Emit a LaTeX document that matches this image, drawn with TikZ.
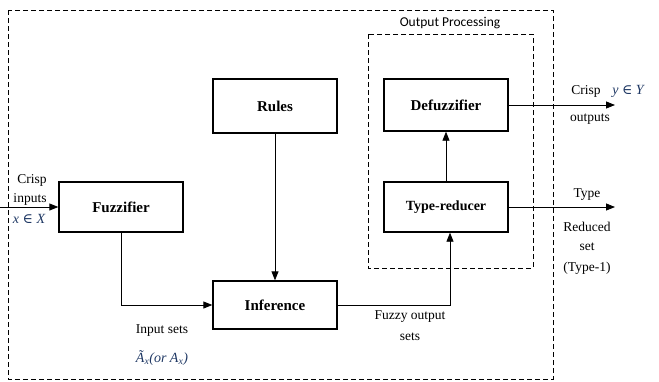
\documentclass[tikz,border=0pt]{standalone}
\usepackage{fontspec}
\setmainfont{Liberation Serif}
\newfontfamily\carlito{Carlito}
\newfontfamily\dvs{DejaVu Serif}
\usetikzlibrary{arrows.meta}
\definecolor{mathblue}{HTML}{1F3864}
\begin{document}
\begin{tikzpicture}[x=1pt,y=-1pt,
  blk/.style={draw,line width=1.3pt,minimum width=124pt,inner sep=0pt,font=\fontsize{15}{17}\selectfont\bfseries},
  conn/.style={line width=0.8pt,-{Triangle[length=9pt,width=7pt]}},
  dbox/.style={draw,dash pattern=on 5pt off 3pt,line width=0.8pt},
  lbl/.style={font=\fontsize{13.5}{15}\selectfont,inner sep=0pt},
  mth/.style={text=mathblue,inner sep=0pt,font=\fontsize{14}{16}\selectfont\itshape}]
\useasboundingbox (0,0) rectangle (659,381);
% dashed frames
\draw[dbox] (8,10) rectangle (553,379);
\draw[dbox] (368,34) rectangle (533,268);
\node[font=\carlito\fontsize{13.5}{15}\selectfont,inner sep=0pt] (op) at (450,23) {Output Processing};
% boxes
\node[blk,minimum height=54pt] (rules) at (275,106) {Rules};
\node[blk,minimum height=52pt] (defuz) at (446,105) {Defuzzifier};
\node[blk,minimum height=50pt] (fuzz) at (121,207) {Fuzzifier};
\node[blk,minimum height=50pt,font=\fontsize{14}{16}\selectfont\bfseries] (tred) at (446,207) {Type-reducer};
\node[blk,minimum height=48pt] (inf) at (275,305) {Inference};
% free ends
\coordinate (inL) at (0,207);
\coordinate (outC) at (615,105);
\coordinate (outT) at (615,207);
% connectors
\draw[conn] (inL) -- (fuzz.west);
\draw[conn] (fuzz.south) |- (inf.west);
\draw[conn] (rules.south) -- (inf.north);
\draw[conn] (inf.east) -| ([xshift=4pt]tred.south);
\draw[conn] (tred.north) -- (defuz.south);
\draw[conn] (defuz.east) -- (outC);
\draw[conn] (tred.east) -- (outT);
% labels
\node[lbl] (l1) at (32,180) {Crisp};
\node[lbl] (l2) at (30,199) {inputs};
\node[mth] (l3) at (29,219) {x {\upshape\dvs ∈} X};
\node[lbl] (l4) at (162,331) {Input sets};
\node[mth] (l5) at (162,358) {Ã\textsubscript{x}(or A\textsubscript{x})};
\node[lbl] (l6) at (410,317) {Fuzzy output};
\node[lbl] (l7) at (410,337) {sets};
\node[lbl] (l8) at (586,91) {Crisp};
\node[mth] (l9) at (628,91) {y {\upshape\dvs ∈} Y};
\node[lbl] (l10) at (590,119) {outputs};
\node[lbl] (l11) at (587,195) {Type};
\node[lbl] (l12) at (587,227) {Reduced};
\node[lbl] (l13) at (587,247) {set};
\node[lbl] (l14) at (587,268) {(Type-1)};
\end{tikzpicture}
\end{document}
